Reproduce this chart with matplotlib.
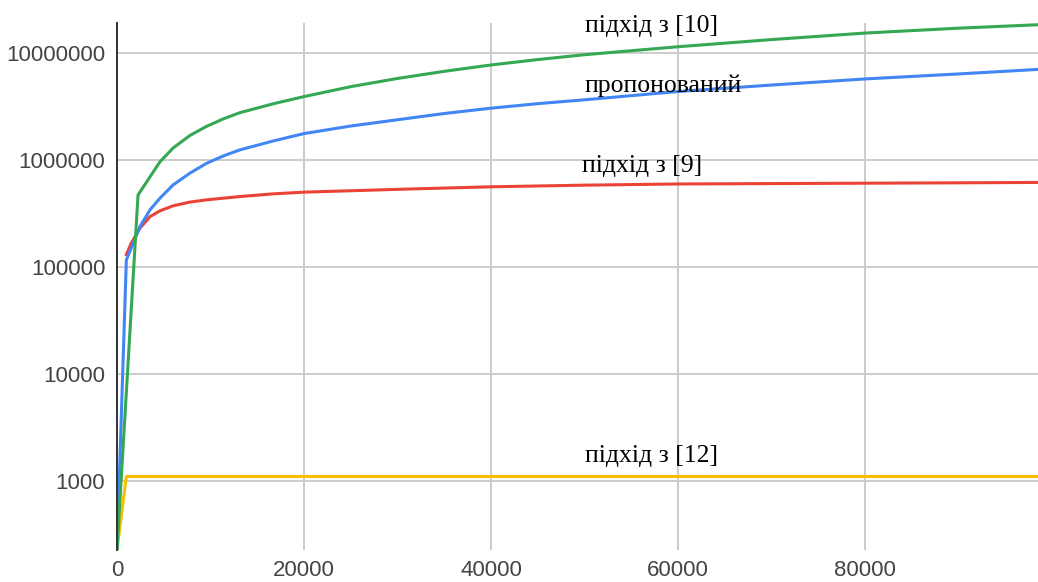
import numpy as np
import matplotlib
matplotlib.use("Agg")
import matplotlib.pyplot as plt
from matplotlib.ticker import NullLocator

# series values (x = problem size, y = operation count)
x_green = [0, 2250, 4600, 6000, 7800, 9600, 11400, 13150, 16700, 20000, 25000,
           30000, 35000, 40000, 45000, 50000, 60000, 70000, 80000, 90000, 98500]
y_green = [0, 4.7e5, 9.6e5, 1.29e6, 1.69e6, 2.06e6, 2.42e6, 2.76e6, 3.34e6,
           3.9e6, 4.83e6, 5.76e6, 6.72e6, 7.7e6, 8.65e6, 9.6e6, 1.14e7, 1.33e7,
           1.53e7, 1.70e7, 1.83e7]

x_blue = [0, 1000, 2460, 3530, 4600, 6000, 7800, 9600, 11400, 13150, 16700,
          20000, 25000, 30000, 35000, 40000, 45000, 50000, 60000, 70000, 80000,
          90000, 98500]
y_blue = [0, 1.16e5, 2.38e5, 3.41e5, 4.39e5, 5.83e5, 7.51e5, 9.3e5, 1.09e6,
          1.24e6, 1.5e6, 1.76e6, 2.07e6, 2.37e6, 2.71e6, 3.04e6, 3.35e6, 3.64e6,
          4.35e6, 5.0e6, 5.7e6, 6.35e6, 7.0e6]

x_red = [1000, 1500, 2460, 3530, 4600, 6000, 7800, 9600, 13150, 16700, 20000,
         30000, 40000, 50000, 60000, 70000, 80000, 90000, 98500]
y_red = [1.3e5, 1.65e5, 2.3e5, 2.95e5, 3.34e5, 3.72e5, 4.03e5, 4.23e5, 4.54e5,
         4.81e5, 4.99e5, 5.3e5, 5.6e5, 5.8e5, 5.95e5, 6.0e5, 6.05e5, 6.1e5,
         6.15e5]

x_yellow = [0, 1000, 98500]
y_yellow = [0, 1100, 1100]

x_ticks = [0, 20000, 40000, 60000, 80000]
y_ticks = [1000, 10000, 100000, 1000000, 10000000]

labels = ["підхід з [10]", "пропонований", "підхід з [9]", "підхід з [12]"]
label_x = [50050, 50050, 49730, 50050]
label_y = [1.57e7, 4.33e6, 7.73e5, 1.49e3]

Y_MIN, Y_MAX = 226, 1.9e7
X_MAX = 98500


def floor_zero(v):
    # zero values sit on the baseline of the log axis
    v = np.asarray(v, dtype=float)
    return np.where(v > 0, v, Y_MIN)


fig = plt.figure(figsize=(10.38, 5.82), dpi=100)
ax = fig.add_axes([117 / 1038, 32 / 582, 921 / 1038, 527 / 582])

ax.plot(x_yellow, floor_zero(y_yellow), color="#FBBC04", lw=2.2)
ax.plot(x_red, floor_zero(y_red), color="#EA4335", lw=2.2)
ax.plot(x_blue, floor_zero(y_blue), color="#4285F4", lw=2.2)
ax.plot(x_green, floor_zero(y_green), color="#34A853", lw=2.2)

ax.set_yscale("log")
ax.set_ylim(Y_MIN, Y_MAX)
ax.set_xlim(0, X_MAX)
ax.set_xticks(x_ticks)
ax.set_xticklabels([str(t) for t in x_ticks])
ax.set_yticks(y_ticks)
ax.set_yticklabels([str(t) for t in y_ticks])
ax.yaxis.set_minor_locator(NullLocator())
ax.tick_params(length=0, labelsize=16, labelcolor="#444444")
ax.tick_params(axis="x", pad=7.5)
ax.tick_params(axis="y", pad=8.5)
for lab in ax.get_xticklabels() + ax.get_yticklabels():
    lab.set_fontfamily("Liberation Sans")

ax.grid(True, color="#cccccc", lw=1.4)
ax.set_axisbelow(True)
for side in ("top", "right", "bottom"):
    ax.spines[side].set_visible(False)
ax.spines["left"].set_color("#333333")
ax.spines["left"].set_linewidth(1.4)

for txt, tx, ty in zip(labels, label_x, label_y):
    ax.text(tx, ty, txt, ha="left", va="baseline", fontsize=18.5,
            family="Liberation Serif", color="black")

fig.savefig("out.png", dpi=100)
